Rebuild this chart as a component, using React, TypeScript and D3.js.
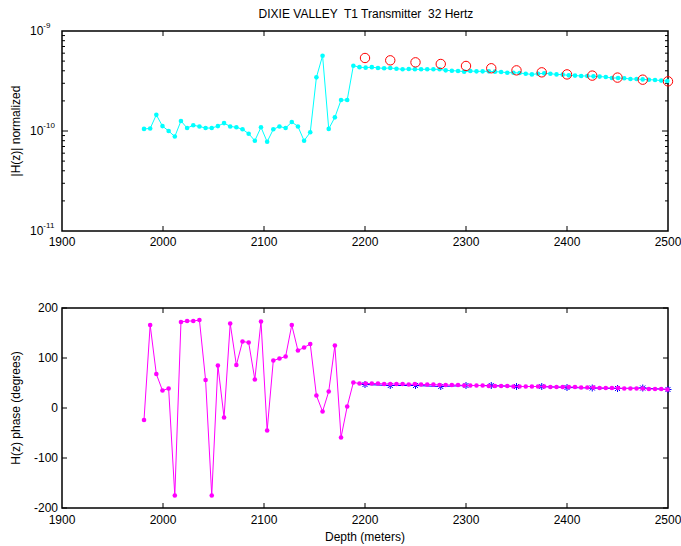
import * as d3 from 'd3';

// depth samples in feet (20 ft spacing), converted to meters below
const depthFt = [
  6500, 6520, 6540, 6560, 6580, 6600, 6620, 6640, 6660, 6680,
  6700, 6720, 6740, 6760, 6780, 6800, 6820, 6840, 6860, 6880,
  6900, 6920, 6940, 6960, 6980, 7000, 7020, 7040, 7060, 7080,
  7100, 7120, 7140, 7160, 7180, 7200, 7220, 7240, 7260, 7280,
  7300, 7320, 7340, 7360, 7380, 7400, 7420, 7440, 7460, 7480,
  7500, 7520, 7540, 7560, 7580, 7600, 7620, 7640, 7660, 7680,
  7700, 7720, 7740, 7760, 7780, 7800, 7820, 7840, 7860, 7880,
  7900, 7920, 7940, 7960, 7980, 8000, 8020, 8040, 8060, 8080,
  8100, 8120, 8140, 8160, 8180, 8200,
];

// |H(z)| normalized, in units of 1e-10
const magMeasured = [
  1.05, 1.06, 1.45, 1.12, 1.0, 0.88, 1.26, 1.07, 1.14, 1.11,
  1.07, 1.07, 1.12, 1.2, 1.11, 1.09, 1.04, 0.94, 0.8, 1.09,
  0.78, 1.04, 1.11, 1.07, 1.23, 1.11, 0.8, 0.97, 3.44, 5.66,
  1.05, 1.37, 2.04, 2.04, 4.5, 4.35, 4.3, 4.35, 4.27, 4.24,
  4.27, 4.2, 4.14, 4.17, 4.14, 4.14, 4.14, 4.14, 4.14, 4.04,
  4.01, 3.98, 3.92, 3.98, 3.95, 3.95, 3.95, 3.92, 3.89, 3.83,
  3.83, 3.8, 3.74, 3.68, 3.74, 3.77, 3.74, 3.68, 3.66, 3.6,
  3.58, 3.55, 3.55, 3.52, 3.5, 3.47, 3.39, 3.39, 3.37, 3.31,
  3.31, 3.28, 3.26, 3.24, 3.19, 3.16,
];

// H(z) phase in degrees
const phaseMeasured = [
  -24, 166, 68, 35, 39, -175, 172, 174, 174, 176,
  56, -175, 85, -19, 169, 86, 133, 131, 57, 173,
  -45, 95, 99, 103, 166, 115, 121, 128, 25, -7,
  33, 125, -59, 3, 51, 49, 49, 49, 49, 48,
  48, 48, 48, 47, 48, 47, 47, 47, 46, 46,
  46, 46, 45, 45, 45, 45, 44, 44, 44, 44,
  43, 43, 43, 43, 43, 43, 42, 42, 42, 42,
  42, 41, 41, 41, 40, 40, 40, 40, 39, 39,
  39, 39, 38, 38, 38, 37,
];

// model curve, sampled every 25 m
const modelDepth = [2200, 2225, 2250, 2275, 2300, 2325, 2350, 2375, 2400, 2425, 2450, 2475, 2500];
const magModel = [5.37, 5.09, 4.86, 4.68, 4.47, 4.24, 4.04, 3.86, 3.68, 3.58, 3.42, 3.26, 3.14];
const phaseModel = [47, 45, 45, 43, 45, 45, 43, 43, 41, 40, 39, 40, 37];

const xTicks = [1900, 2000, 2100, 2200, 2300, 2400, 2500];
const phaseTicks = [-200, -100, 0, 100, 200];
const magDecades = [-11, -10, -9];

const W = 681;
const H = 546;
const left = 62;
const right = 668;
const top1 = 31;
const bot1 = 231;
const top2 = 308;
const bot2 = 508;
const font = 'Liberation Sans, Arial, sans-serif';

const depthM = depthFt.map(f => f * 0.3048);

const x = d3.scaleLinear().domain([1900, 2500]).range([left, right]);
const yMag = d3.scaleLog().domain([1e-11, 1e-9]).range([bot1, top1]);
const yPh = d3.scaleLinear().domain([-200, 200]).range([bot2, top2]);

const magLine = d3.line<number>()
  .x((d, i) => x(depthM[i]))
  .y(d => yMag(d * 1e-10));
const phLine = d3.line<number>()
  .x((d, i) => x(depthM[i]))
  .y(d => yPh(d));
const phModelLine = d3.line<number>()
  .x((d, i) => x(modelDepth[i]))
  .y(d => yPh(d));

const minorMag: number[] = [];
[1e-11, 1e-10].forEach(b => {
  for (let k = 2; k <= 9; k++) minorMag.push(k * b);
});

function XTicks({ y0, y1 }: { y0: number; y1: number }) {
  return (
    <g stroke="#000" strokeWidth={1}>
      {xTicks.slice(1, -1).map(t => (
        <g key={t}>
          <line x1={x(t)} x2={x(t)} y1={y1} y2={y1 - 5} />
          <line x1={x(t)} x2={x(t)} y1={y0} y2={y0 + 5} />
        </g>
      ))}
    </g>
  );
}

function XLabels({ y }: { y: number }) {
  return (
    <g fontSize={12} fontFamily={font} textAnchor="middle" fill="#000">
      {xTicks.map(t => (
        <text key={t} x={x(t)} y={y}>{t}</text>
      ))}
    </g>
  );
}

function Star({ cx, cy }: { cx: number; cy: number }) {
  const r = 3.5;
  const d = r * 0.72;
  return (
    <g stroke="#0000ff" strokeWidth={1}>
      <line x1={cx - r} x2={cx + r} y1={cy} y2={cy} />
      <line x1={cx} x2={cx} y1={cy - r} y2={cy + r} />
      <line x1={cx - d} x2={cx + d} y1={cy - d} y2={cy + d} />
      <line x1={cx - d} x2={cx + d} y1={cy + d} y2={cy - d} />
    </g>
  );
}

export default function App() {
  return (
    <svg width={W} height={H} style={{ position: 'absolute', left: 0, top: 0, background: '#fff' }}>
      <rect width={W} height={H} fill="#fff" />
      <text x={366} y={18} textAnchor="middle" fontSize={12} fontFamily={font} style={{ whiteSpace: 'pre' }}>
        {'DIXIE VALLEY  T1 Transmitter  32 Hertz'}
      </text>

      {/* top panel: magnitude */}
      <rect x={left} y={top1} width={right - left} height={bot1 - top1} fill="none" stroke="#000" strokeWidth={1.5} />
      <XTicks y0={top1} y1={bot1} />
      <g stroke="#000" strokeWidth={1}>
        {minorMag.map(v => (
          <g key={v}>
            <line x1={left} x2={left + 3} y1={yMag(v)} y2={yMag(v)} />
            <line x1={right} x2={right - 3} y1={yMag(v)} y2={yMag(v)} />
          </g>
        ))}
        <line x1={left} x2={left + 6} y1={yMag(1e-10)} y2={yMag(1e-10)} />
        <line x1={right} x2={right - 6} y1={yMag(1e-10)} y2={yMag(1e-10)} />
      </g>
      <g fontFamily={font} fill="#000">
        {magDecades.map(e => (
          <text key={e} x={30} y={yMag(Math.pow(10, e)) + 4} fontSize={12}>
            10<tspan dy={-7} fontSize={8}>{e}</tspan>
          </text>
        ))}
      </g>
      <XLabels y={246} />
      <text transform={`translate(20,${(top1 + bot1) / 2}) rotate(-90)`} textAnchor="middle" fontSize={12} fontFamily={font}>
        |H(z)| normalized
      </text>

      <path d={magLine(magMeasured) ?? ''} fill="none" stroke="#00ffff" strokeWidth={1} />
      {magMeasured.map((v, i) => (
        <circle key={i} cx={x(depthM[i])} cy={yMag(v * 1e-10)} r={2.3} fill="#00ffff" />
      ))}
      {magModel.map((v, i) => (
        <circle key={i} cx={x(modelDepth[i])} cy={yMag(v * 1e-10)} r={4.7} fill="none" stroke="#ff0000" strokeWidth={1} />
      ))}

      {/* bottom panel: phase */}
      <rect x={left} y={top2} width={right - left} height={bot2 - top2} fill="none" stroke="#000" strokeWidth={1.5} />
      <XTicks y0={top2} y1={bot2} />
      <g stroke="#000" strokeWidth={1}>
        {phaseTicks.map(t => (
          <g key={t}>
            <line x1={left} x2={left + 5} y1={yPh(t)} y2={yPh(t)} />
            <line x1={right} x2={right - 5} y1={yPh(t)} y2={yPh(t)} />
          </g>
        ))}
      </g>
      <g fontFamily={font} fontSize={12} textAnchor="end" fill="#000">
        {phaseTicks.map(t => (
          <text key={t} x={58} y={yPh(t) + 4}>{t}</text>
        ))}
      </g>
      <XLabels y={524} />
      <text transform={`translate(20,${(top2 + bot2) / 2}) rotate(-90)`} textAnchor="middle" fontSize={12} fontFamily={font}>
        H(z) phase (degrees)
      </text>
      <text x={(left + right) / 2} y={541} textAnchor="middle" fontSize={12} fontFamily={font}>
        Depth (meters)
      </text>

      <path d={phModelLine(phaseModel) ?? ''} fill="none" stroke="#0000ff" strokeWidth={1} />
      {phaseModel.map((v, i) => (
        <Star key={i} cx={x(modelDepth[i])} cy={yPh(v)} />
      ))}
      <path d={phLine(phaseMeasured) ?? ''} fill="none" stroke="#ff00ff" strokeWidth={1} />
      {phaseMeasured.map((v, i) => (
        <circle key={i} cx={x(depthM[i])} cy={yPh(v)} r={2.3} fill="#ff00ff" />
      ))}
    </svg>
  );
}
